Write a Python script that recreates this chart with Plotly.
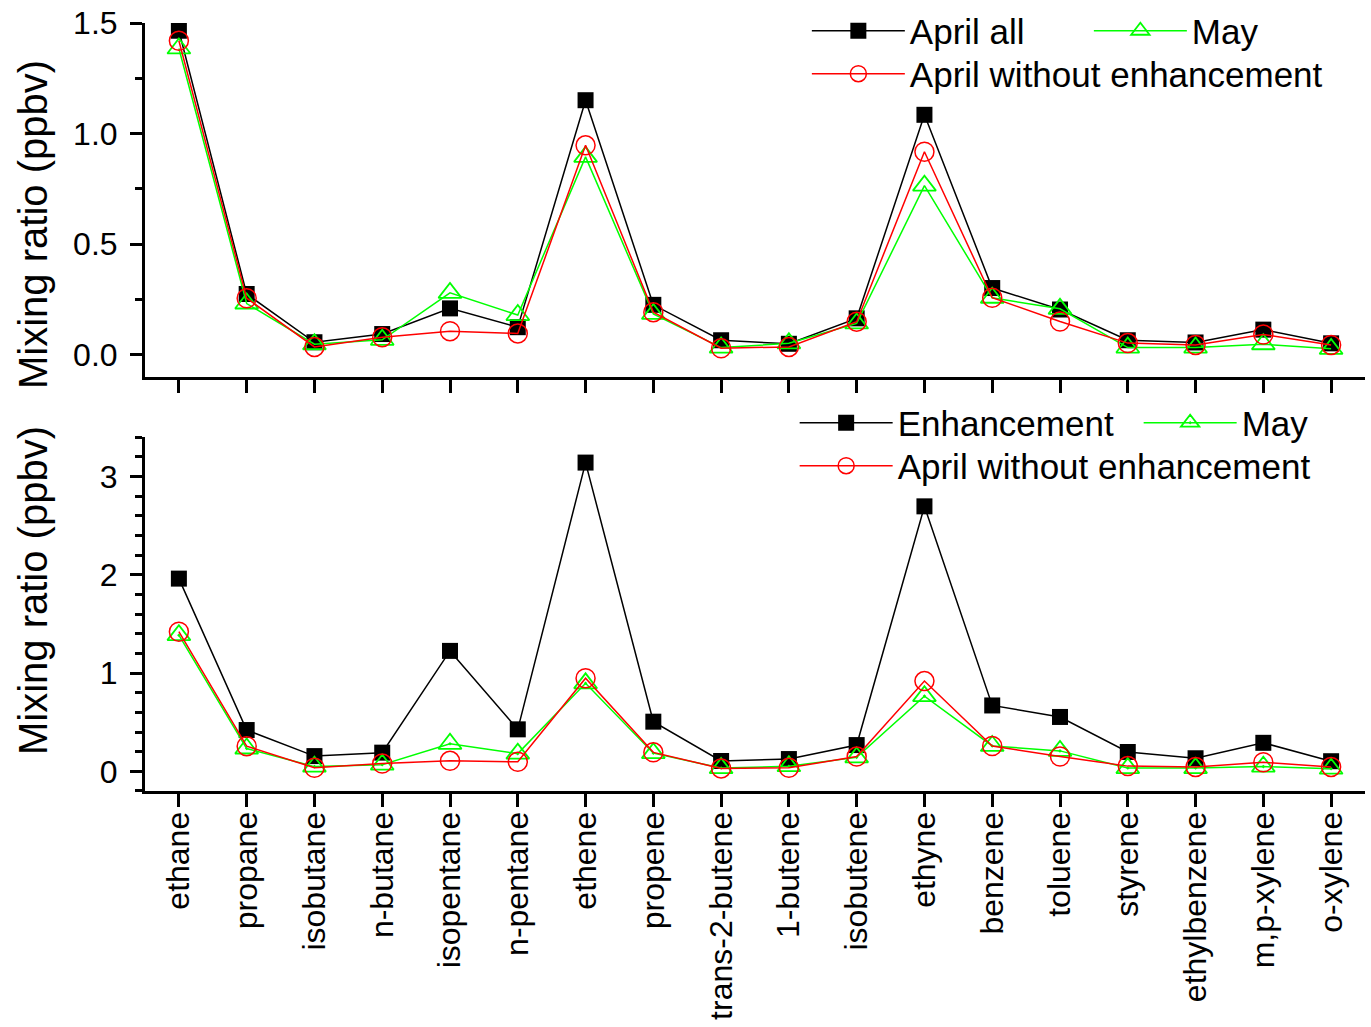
import plotly.graph_objects as go

categories = ["ethane", "propane", "isobutane", "n-butane", "isopentane", "n-pentane",
              "ethene", "propene", "trans-2-butene", "1-butene", "isobutene", "ethyne",
              "benzene", "toluene", "styrene", "ethylbenzene", "m,p-xylene", "o-xylene"]

april_all = [1.465, 0.275, 0.057, 0.094, 0.21, 0.125, 1.151, 0.226, 0.066, 0.05,
             0.165, 1.085, 0.302, 0.205, 0.066, 0.056, 0.114, 0.052]
april_without = [1.42, 0.256, 0.036, 0.08, 0.107, 0.097, 0.947, 0.193, 0.03, 0.036,
                 0.15, 0.918, 0.258, 0.151, 0.053, 0.045, 0.092, 0.045]
may = [1.385, 0.232, 0.048, 0.068, 0.28, 0.18, 0.895, 0.185, 0.033, 0.052,
       0.142, 0.765, 0.258, 0.208, 0.033, 0.033, 0.048, 0.027]
enhancement = [1.96, 0.42, 0.155, 0.19, 1.225, 0.427, 3.14, 0.505, 0.105, 0.125,
               0.267, 2.695, 0.67, 0.553, 0.197, 0.133, 0.29, 0.103]

top_yticks = [0.0, 0.5, 1.0, 1.5]
bottom_yticks = [0, 1, 2, 3]

FONT = "Liberation Sans, Arial, sans-serif"
BLACK, RED, GREEN = "#000000", "#FF0000", "#00FF00"
LW = 1.5
LEG_FONT = 35
TICK_FONT = 32
TITLE_FONT = 40

fig = go.Figure()

# top panel
fig.add_trace(go.Scatter(x=categories, y=april_all, name="April all", mode="lines+markers",
                         line=dict(color=BLACK, width=LW),
                         marker=dict(symbol="square", size=16, color=BLACK),
                         xaxis="x2", yaxis="y2", legend="legend"))
fig.add_trace(go.Scatter(x=categories, y=may, name="May", mode="lines+markers",
                         line=dict(color=GREEN, width=LW),
                         marker=dict(symbol="triangle-up-open", size=20, color=GREEN,
                                     line=dict(width=1.8, color=GREEN)),
                         xaxis="x2", yaxis="y2", legend="legend"))
fig.add_trace(go.Scatter(x=categories, y=april_without, name="April without enhancement",
                         mode="lines+markers", line=dict(color=RED, width=LW),
                         marker=dict(symbol="circle-open", size=19, color=RED,
                                     line=dict(width=1.5, color=RED)),
                         xaxis="x2", yaxis="y2", legend="legend2"))

# bottom panel
fig.add_trace(go.Scatter(x=categories, y=enhancement, name="Enhancement", mode="lines+markers",
                         line=dict(color=BLACK, width=LW),
                         marker=dict(symbol="square", size=16, color=BLACK),
                         xaxis="x", yaxis="y", legend="legend3"))
fig.add_trace(go.Scatter(x=categories, y=may, name="May", mode="lines+markers",
                         line=dict(color=GREEN, width=LW),
                         marker=dict(symbol="triangle-up-open-dot", size=20, color=GREEN,
                                     line=dict(width=1.8, color=GREEN)),
                         xaxis="x", yaxis="y", legend="legend3"))
fig.add_trace(go.Scatter(x=categories, y=april_without, name="April without enhancement",
                         mode="lines+markers", line=dict(color=RED, width=LW),
                         marker=dict(symbol="circle-open", size=19, color=RED,
                                     line=dict(width=1.5, color=RED)),
                         xaxis="x", yaxis="y", legend="legend4"))

axis_common = dict(showline=True, linecolor=BLACK, linewidth=3, ticks="outside",
                   tickwidth=2.5, tickcolor=BLACK, showgrid=False, zeroline=False,
                   mirror=False, automargin=False)

xaxis_common = dict(axis_common, type="category", categoryorder="array",
                    categoryarray=categories, range=[-0.5, len(categories) - 0.5],
                    ticklen=13)

legend_common = dict(orientation="h", xanchor="left", yanchor="middle",
                     bgcolor="rgba(0,0,0,0)", itemwidth=93,
                     font=dict(size=LEG_FONT, family=FONT, color=BLACK),
                     itemsizing="trace")

fig.update_layout(
    width=1371, height=1027,
    margin=dict(l=145, r=6, t=23, b=236, autoexpand=False),
    paper_bgcolor="white", plot_bgcolor="white",
    font=dict(family=FONT, size=TICK_FONT, color=BLACK),
    xaxis=dict(xaxis_common, domain=[0, 1], anchor="y", tickangle=-90,
               tickfont=dict(size=TICK_FONT), ticklabelstandoff=-8),
    yaxis=dict(axis_common, domain=[0, 0.4609], anchor="x", range=[-0.2, 3.4],
               tickvals=bottom_yticks, ticktext=[str(v) for v in bottom_yticks],
               ticklen=12, tickfont=dict(size=TICK_FONT), ticklabelstandoff=6,
               minor=dict(dtick=0.2, tick0=0, ticks="outside", ticklen=7, tickwidth=2.5,
                          tickcolor=BLACK, showgrid=False)),
    xaxis2=dict(xaxis_common, domain=[0, 1], anchor="y2", showticklabels=False),
    yaxis2=dict(axis_common, domain=[0.5391, 1], anchor="x2", range=[-0.1, 1.5],
                tickvals=top_yticks, ticktext=[f"{v:.1f}" for v in top_yticks],
                ticklen=12, tickfont=dict(size=TICK_FONT), ticklabelstandoff=6,
                minor=dict(dtick=0.25, tick0=0, ticks="outside", ticklen=7, tickwidth=2.5,
                           tickcolor=BLACK, showgrid=False)),
    legend=dict(legend_common, x=0.5425, y=0.9896, entrywidth=174, entrywidthmode="pixels"),
    legend2=dict(legend_common, x=0.5425, y=0.9336),
    legend3=dict(legend_common, x=0.5325, y=0.4792, entrywidth=236, entrywidthmode="pixels"),
    legend4=dict(legend_common, x=0.5325, y=0.4232),
    annotations=[
        dict(text="Mixing ratio (ppbv)", textangle=-90, xref="paper", yref="paper",
             x=-0.0918, y=0.737, xanchor="center", yanchor="middle", showarrow=False,
             font=dict(size=TITLE_FONT, family=FONT, color=BLACK)),
        dict(text="Mixing ratio (ppbv)", textangle=-90, xref="paper", yref="paper",
             x=-0.0918, y=0.2604, xanchor="center", yanchor="middle", showarrow=False,
             font=dict(size=TITLE_FONT, family=FONT, color=BLACK)),
    ],
)

fig.write_html("out.html")
